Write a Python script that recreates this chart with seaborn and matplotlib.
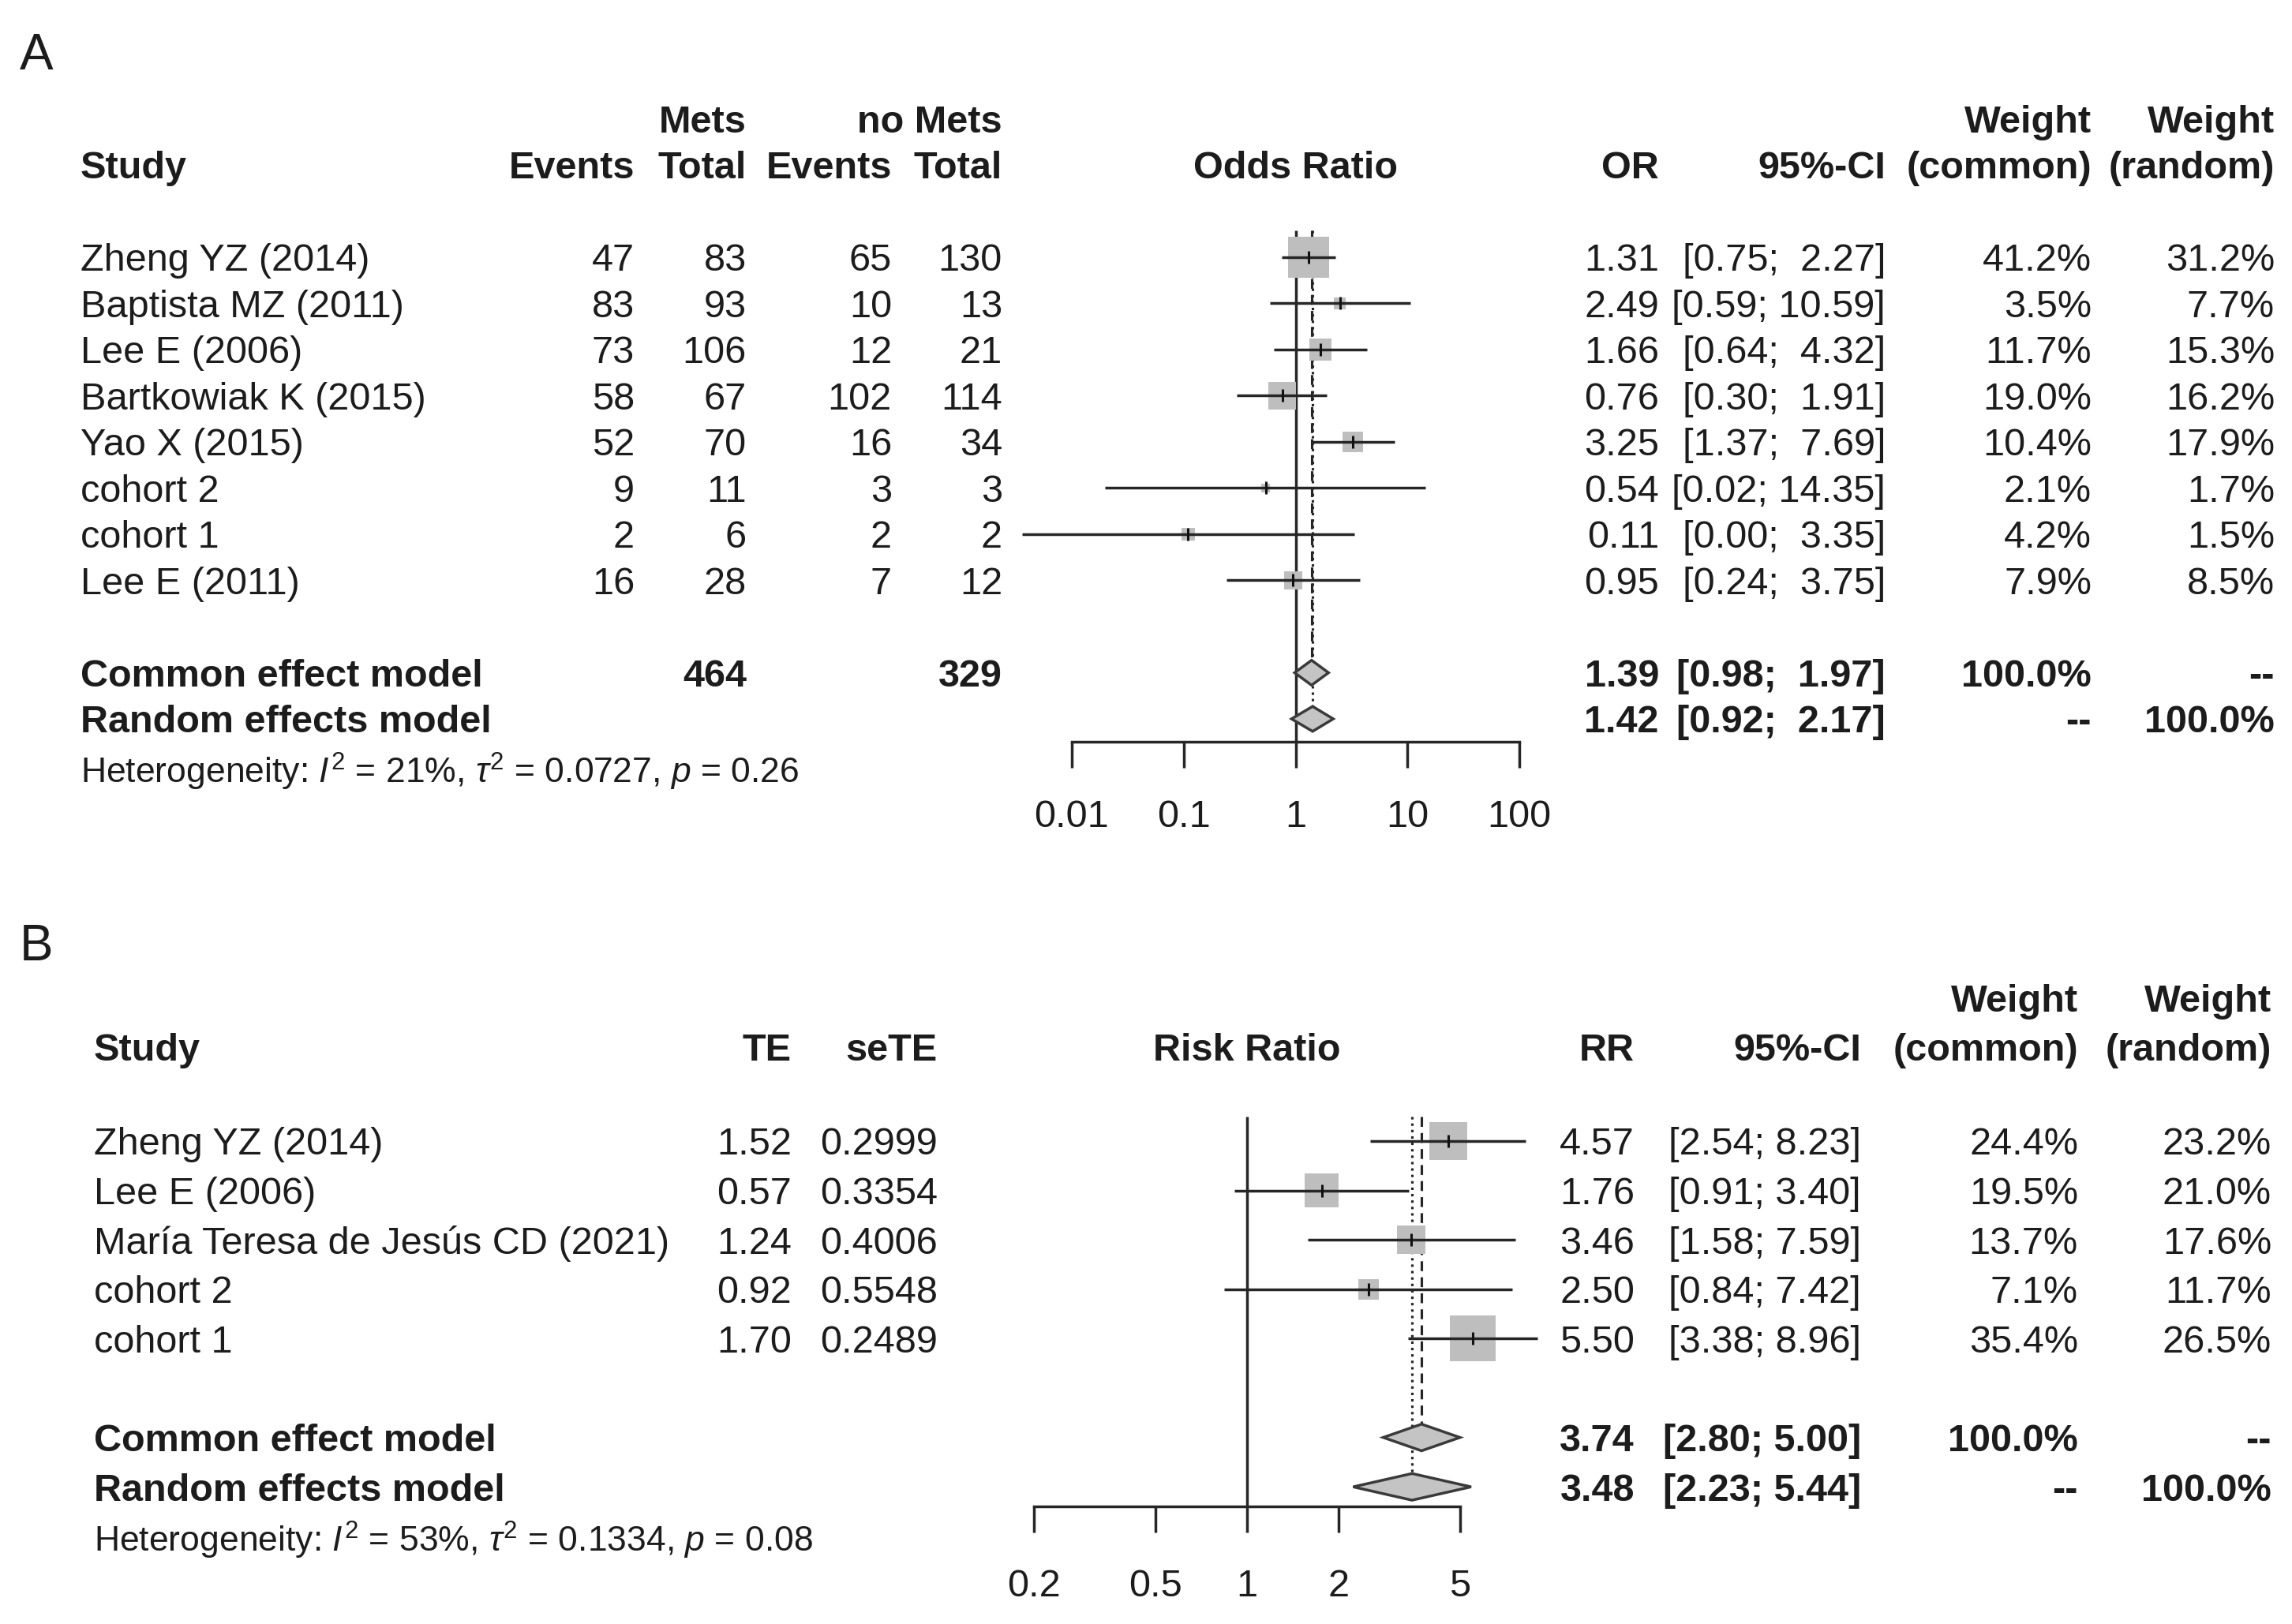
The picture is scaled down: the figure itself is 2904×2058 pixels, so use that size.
import numpy as np
import pandas as pd
import matplotlib
matplotlib.use("Agg")
import matplotlib.pyplot as plt
import seaborn as sns
from matplotlib.ticker import NullLocator

# ---------------- data: panel A ----------------
studies_a = ["Zheng YZ (2014)", "Baptista MZ (2011)", "Lee E (2006)", "Bartkowiak K (2015)",
             "Yao X (2015)", "cohort 2", "cohort 1", "Lee E (2011)"]
mets_events = [47, 83, 73, 58, 52, 9, 2, 16]
mets_total = [83, 93, 106, 67, 70, 11, 6, 28]
nomets_events = [65, 10, 12, 102, 16, 3, 2, 7]
nomets_total = [130, 13, 21, 114, 34, 3, 2, 12]
or_a = [1.31, 2.49, 1.66, 0.76, 3.25, 0.54, 0.11, 0.95]
lo_a = [0.75, 0.59, 0.64, 0.30, 1.37, 0.02, 0.0036, 0.24]
hi_a = [2.27, 10.59, 4.32, 1.91, 7.69, 14.35, 3.35, 3.75]
wc_a = [41.2, 3.5, 11.7, 19.0, 10.4, 2.1, 4.2, 7.9]
wr_a = [31.2, 7.7, 15.3, 16.2, 17.9, 1.7, 1.5, 8.5]
pooled_a = {"common": (1.39, 0.98, 1.97), "random": (1.42, 0.92, 2.17)}
totals_a = (464, 329)
het_a = ("21%", "0.0727", "0.26")
ticks_a = [0.01, 0.1, 1, 10, 100]
ticklabels_a = ["0.01", "0.1", "1", "10", "100"]

# ---------------- data: panel B ----------------
studies_b = ["Zheng YZ (2014)", "Lee E (2006)", "María Teresa de Jesús CD (2021)", "cohort 2", "cohort 1"]
te_b = [1.52, 0.57, 1.24, 0.92, 1.70]
sete_b = [0.2999, 0.3354, 0.4006, 0.5548, 0.2489]
rr_b = [4.57, 1.76, 3.46, 2.50, 5.50]
lo_b = [2.54, 0.91, 1.58, 0.84, 3.38]
hi_b = [8.23, 3.40, 7.59, 7.42, 8.96]
wc_b = [24.4, 19.5, 13.7, 7.1, 35.4]
wr_b = [23.2, 21.0, 17.6, 11.7, 26.5]
pooled_b = {"common": (3.74, 2.80, 5.00), "random": (3.48, 2.23, 5.44)}
het_b = ("53%", "0.1334", "0.08")
ticks_b = [0.2, 0.5, 1, 2, 5]
ticklabels_b = ["0.2", "0.5", "1", "2", "5"]

# ---------------- style ----------------
sns.set_theme(style="white")
plt.rcParams['font.family'] = ['Liberation Sans', 'DejaVu Sans']
plt.rcParams['mathtext.fontset'] = 'custom'
plt.rcParams['mathtext.rm'] = 'Liberation Sans'
plt.rcParams['mathtext.it'] = 'Liberation Sans:italic'
plt.rcParams['mathtext.bf'] = 'Liberation Sans:bold'

W, H, DPI = 2904, 2058, 100
FS = 35
FS_HET = 32
TXT = "#1c1c1c"
LINE = "#262626"
BOXC = "#bebebe"
LW = 2.5

fig = plt.figure(figsize=(W / DPI, H / DPI), dpi=DPI)
fig.patch.set_facecolor("white")


def em(fs):
    return fs * DPI / 72.0


def put(x, yc, s, ha="left", fs=FS, bold=False):
    base = yc + 0.358 * em(fs)
    fig.text(x / W, 1 - base / H, s, ha=ha, va="baseline", fontsize=fs,
             fontweight="bold" if bold else "normal", color=TXT)


def fmt_ci(lo, hi, lw, hw):
    return "[" + f"{lo:.2f}".rjust(lw) + "; " + f"{hi:.2f}".rjust(hw) + "]"


def forest(row0, step, axis_row, line_top, x1, dec, est, lo, hi, w, pooled,
           ticks, ticklabels, smax, pad, diam_h=0.27):
    top_row = -3.6
    L, R = 1250, 2000
    y_top = row0 + step * top_row
    y_bot = row0 + step * axis_row
    ax = fig.add_axes([L / W, 1 - y_bot / H, (R - L) / W, (y_bot - y_top) / H])
    ax.set_xscale("log")
    ax.set_xlim(10 ** ((L - x1) / dec), 10 ** ((R - x1) / dec))
    ax.set_ylim(axis_row, top_row)
    ax.patch.set_alpha(0)
    for s in ["top", "left", "right"]:
        ax.spines[s].set_visible(False)
    ax.spines["bottom"].set_bounds(ticks[0], ticks[-1])
    ax.spines["bottom"].set_linewidth(LW)
    ax.spines["bottom"].set_color(LINE)
    ax.set_xticks(ticks)
    ax.set_xticklabels(ticklabels)
    ax.xaxis.set_minor_locator(NullLocator())
    ax.tick_params(axis="x", direction="out", length=24, width=LW, color=LINE,
                   pad=pad, labelsize=FS, labelcolor=TXT, bottom=True)
    ax.set_yticks([])
    ax.grid(False)

    n = len(est)
    rows = np.arange(n)
    rc, rr = n + 1, n + 2
    c_est, r_est = pooled["common"][0], pooled["random"][0]

    # null line, common (dashed) and random (dotted) lines
    ax.vlines(1, line_top, axis_row, color=LINE, lw=LW, zorder=1)
    ax.vlines(c_est, line_top, rc - diam_h, color=LINE, lw=LW * 0.9,
              linestyles=(0, (4, 2.5)), zorder=1.5)
    ax.vlines(r_est, line_top, rr - diam_h, color=LINE, lw=LW * 0.9,
              linestyles=(0, (1, 1.6)), zorder=1.5)

    df = pd.DataFrame({"est": est, "row": rows, "w": w})
    sns.scatterplot(data=df, x="est", y="row", size="w", sizes=(0, smax),
                    size_norm=(0, max(w)), marker="s", color=BOXC,
                    edgecolor="none", linewidth=0, legend=False, ax=ax, zorder=2)
    ax.hlines(rows, lo, hi, color=LINE, lw=LW, zorder=3)
    ax.plot(est, rows, linestyle="none", marker="|", markersize=11,
            markeredgewidth=2.2, color="#111111", zorder=3.5)

    for key, r in (("common", rc), ("random", rr)):
        e, l, h = pooled[key]
        ax.fill([l, e, h, e], [r, r - diam_h, r, r + diam_h], facecolor="#c4c4c4",
                edgecolor="#3a3a3a", lw=LW, zorder=4)
    ax.set_xlabel("")
    ax.set_ylabel("")
    return ax


# ================= Panel A =================
r0a, sa = 326, 58.5
ya = lambda r: r0a + sa * r

put(46, 65, "A", ha="center", fs=46)
put(946, ya(-3), "Mets", ha="right", bold=True)
put(1270, ya(-3), "no Mets", ha="right", bold=True)
put(2650, ya(-3), "Weight", ha="right", bold=True)
put(2882, ya(-3), "Weight", ha="right", bold=True)
put(102, ya(-2), "Study", bold=True)
put(804, ya(-2), "Events", ha="right", bold=True)
put(946, ya(-2), "Total", ha="right", bold=True)
put(1130, ya(-2), "Events", ha="right", bold=True)
put(1270, ya(-2), "Total", ha="right", bold=True)
put(1641, ya(-2), "Odds Ratio", ha="center", bold=True)
put(2102, ya(-2), "OR", ha="right", bold=True)
put(2389, ya(-2), "95%-CI", ha="right", bold=True)
put(2650, ya(-2), "(common)", ha="right", bold=True)
put(2882, ya(-2), "(random)", ha="right", bold=True)

all_lo_a = lo_a + [pooled_a["common"][1], pooled_a["random"][1]]
all_hi_a = hi_a + [pooled_a["common"][2], pooled_a["random"][2]]
lwa = max(len(f"{v:.2f}") for v in all_lo_a)
hwa = max(len(f"{v:.2f}") for v in all_hi_a)
for i, name in enumerate(studies_a):
    y = ya(i)
    put(102, y, name)
    put(804, y, str(mets_events[i]), ha="right")
    put(946, y, str(mets_total[i]), ha="right")
    put(1130, y, str(nomets_events[i]), ha="right")
    put(1270, y, str(nomets_total[i]), ha="right")
    put(2102, y, f"{or_a[i]:.2f}", ha="right")
    put(2389, y, fmt_ci(lo_a[i], hi_a[i], lwa, hwa), ha="right")
    put(2650, y, f"{wc_a[i]:.1f}%", ha="right")
    put(2882, y, f"{wr_a[i]:.1f}%", ha="right")

na = len(studies_a)
yc, yr = ya(na + 1), ya(na + 2)
put(102, yc, "Common effect model", bold=True)
put(946, yc, str(totals_a[0]), ha="right", bold=True)
put(1270, yc, str(totals_a[1]), ha="right", bold=True)
e, l, h = pooled_a["common"]
put(2102, yc, f"{e:.2f}", ha="right", bold=True)
put(2389, yc, fmt_ci(l, h, lwa, hwa), ha="right", bold=True)
put(2650, yc, "100.0%", ha="right", bold=True)
put(2882, yc, "--", ha="right", bold=True)
put(102, yr, "Random effects model", bold=True)
e, l, h = pooled_a["random"]
put(2102, yr, f"{e:.2f}", ha="right", bold=True)
put(2389, yr, fmt_ci(l, h, lwa, hwa), ha="right", bold=True)
put(2650, yr, "--", ha="right", bold=True)
put(2882, yr, "100.0%", ha="right", bold=True)
put(102, ya(na + 3.12),
    r"Heterogeneity: $\mathit{I}^{2}$ = " + het_a[0] + r", $\tau^{2}$ = " + het_a[1]
    + r", $\mathit{p}$ = " + het_a[2], fs=FS_HET)

forest(r0a, sa, 10.49, -0.58, 1641.5, 141.9, or_a, lo_a, hi_a, wc_a, pooled_a,
       ticks_a, ticklabels_a, smax=1400, pad=29)

# ================= Panel B =================
r0b, sb = 1446, 62.6
yb = lambda r: r0b + sb * r

put(46, 1194, "B", ha="center", fs=46)
put(2633, yb(-2.9), "Weight", ha="right", bold=True)
put(2878, yb(-2.9), "Weight", ha="right", bold=True)
put(119, yb(-1.9), "Study", bold=True)
put(1003, yb(-1.9), "TE", ha="right", bold=True)
put(1188, yb(-1.9), "seTE", ha="right", bold=True)
put(1580, yb(-1.9), "Risk Ratio", ha="center", bold=True)
put(2071, yb(-1.9), "RR", ha="right", bold=True)
put(2358, yb(-1.9), "95%-CI", ha="right", bold=True)
put(2633, yb(-1.9), "(common)", ha="right", bold=True)
put(2878, yb(-1.9), "(random)", ha="right", bold=True)

all_lo_b = lo_b + [pooled_b["common"][1], pooled_b["random"][1]]
all_hi_b = hi_b + [pooled_b["common"][2], pooled_b["random"][2]]
lwb = max(len(f"{v:.2f}") for v in all_lo_b)
hwb = max(len(f"{v:.2f}") for v in all_hi_b)
for i, name in enumerate(studies_b):
    y = yb(i)
    put(119, y, name)
    put(1003, y, f"{te_b[i]:.2f}", ha="right")
    put(1188, y, f"{sete_b[i]:.4f}", ha="right")
    put(2071, y, f"{rr_b[i]:.2f}", ha="right")
    put(2358, y, fmt_ci(lo_b[i], hi_b[i], lwb, hwb), ha="right")
    put(2633, y, f"{wc_b[i]:.1f}%", ha="right")
    put(2878, y, f"{wr_b[i]:.1f}%", ha="right")

nb = len(studies_b)
yc, yr = yb(nb + 1), yb(nb + 2)
put(119, yc, "Common effect model", bold=True)
e, l, h = pooled_b["common"]
put(2071, yc, f"{e:.2f}", ha="right", bold=True)
put(2358, yc, fmt_ci(l, h, lwb, hwb), ha="right", bold=True)
put(2633, yc, "100.0%", ha="right", bold=True)
put(2878, yc, "--", ha="right", bold=True)
put(119, yr, "Random effects model", bold=True)
e, l, h = pooled_b["random"]
put(2071, yr, f"{e:.2f}", ha="right", bold=True)
put(2358, yr, fmt_ci(l, h, lwb, hwb), ha="right", bold=True)
put(2633, yr, "--", ha="right", bold=True)
put(2878, yr, "100.0%", ha="right", bold=True)
put(119, yb(nb + 3.07),
    r"Heterogeneity: $\mathit{I}^{2}$ = " + het_b[0] + r", $\tau^{2}$ = " + het_b[1]
    + r", $\mathit{p}$ = " + het_b[2], fs=FS_HET)

forest(r0b, sb, 7.4, -0.49, 1580, 386, rr_b, lo_b, hi_b, wc_b, pooled_b,
       ticks_b, ticklabels_b, smax=1750, pad=33)

fig.savefig("out.png", dpi=DPI, facecolor="white")
